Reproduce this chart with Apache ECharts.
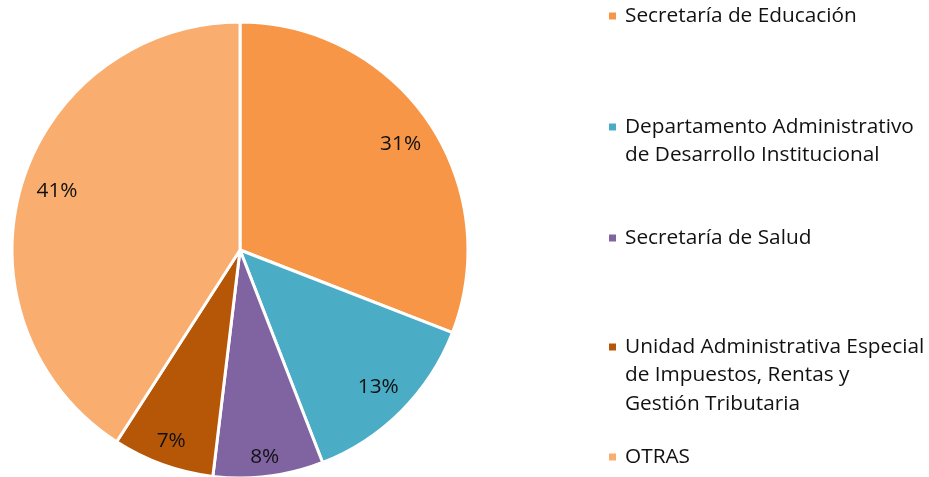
<!DOCTYPE html>
<html>
<head>
<meta charset="utf-8">
<script src="https://cdn.jsdelivr.net/npm/echarts@6/dist/echarts.min.js"></script>
<style>
  html, body { margin: 0; padding: 0; background: #fff; }
  #chart { width: 929px; height: 477px; }
</style>
</head>
<body>
<div id="chart"></div>
<script>
// porcentajes
const categories = [
  'Secretaría de Educación',
  'Departamento Administrativo de Desarrollo Institucional',
  'Secretaría de Salud',
  'Unidad Administrativa Especial de Impuestos, Rentas y Gestión Tributaria',
  'OTRAS'
];
const legendLabels = [
  'Secretaría de Educación',
  'Departamento Administrativo\nde Desarrollo Institucional',
  'Secretaría de Salud',
  'Unidad Administrativa Especial\nde Impuestos, Rentas y\nGestión Tributaria',
  'OTRAS'
];
const values = [30.9, 13.2, 7.8, 7.2, 40.9];
const colors = ['#F79646', '#4BACC6', '#8064A2', '#B65708', '#F9AD6F'];

const FONT = 'Open Sans';
const FONT_SIZE = 20.8;
const LINE_H = 28.5;
// centro de la primera linea de cada entrada
const firstLineY = [16, 127, 238, 347, 457];
// pequeños ajustes de las etiquetas (padding top,right,bottom,left)
const labelPad = [[10, 4, 0, 0], [0, 2, 4, 0], [24, 0, 0, 0], [12, 4, 0, 0], [0, 0, 6, 12]];

const chart = echarts.init(document.getElementById('chart'));

const legends = categories.map((name, i) => {
  const lines = legendLabels[i].split('\n').length;
  // lineas vacias delante para que el icono quede a la altura de la primera linea
  const txt = '\n'.repeat(lines - 1) + legendLabels[i];
  const offset = (2 * lines - 1) * LINE_H / 2;
  return {
    left: 607,
    top: firstLineY[i] - offset,
    padding: 0,
    orient: 'vertical',
    icon: 'rect',
    itemWidth: 9,
    itemHeight: 9,
    selectedMode: false,
    data: [name],
    formatter: () => txt,
    textStyle: {
      fontFamily: FONT,
      fontSize: FONT_SIZE,
      color: '#111',
      lineHeight: LINE_H,
      padding: [0, 0, 0, 3]
    }
  };
});

chart.setOption({
  backgroundColor: '#fff',
  animation: false,
  color: colors,
  legend: legends,
  series: [
    {
      type: 'pie',
      center: [240, 250],
      radius: [0, 228],
      startAngle: 90,
      clockwise: true,
      label: { show: false },
      labelLine: { show: false },
      itemStyle: { borderColor: '#fff', borderWidth: 3 },
      data: categories.map((name, i) => ({ name, value: values[i] }))
    },
    {
      // capa transparente solo para ubicar los porcentajes
      type: 'pie',
      center: [240, 250],
      radius: [160, 228],
      startAngle: 90,
      clockwise: true,
      silent: true,
      itemStyle: { color: 'rgba(0,0,0,0)' },
      label: {
        show: true,
        position: 'inside',
        fontFamily: FONT,
        fontSize: FONT_SIZE,
        color: '#111',
        formatter: p => '{t|' + Math.round(p.percent) + '%}'
      },
      labelLine: { show: false },
      data: categories.map((name, i) => ({
        name: 'l' + i,
        value: values[i],
        label: {
          rich: {
            t: {
              fontFamily: FONT,
              fontSize: FONT_SIZE,
              color: '#111',
              padding: labelPad[i]
            }
          }
        }
      }))
    }
  ]
});
</script>
</body>
</html>
